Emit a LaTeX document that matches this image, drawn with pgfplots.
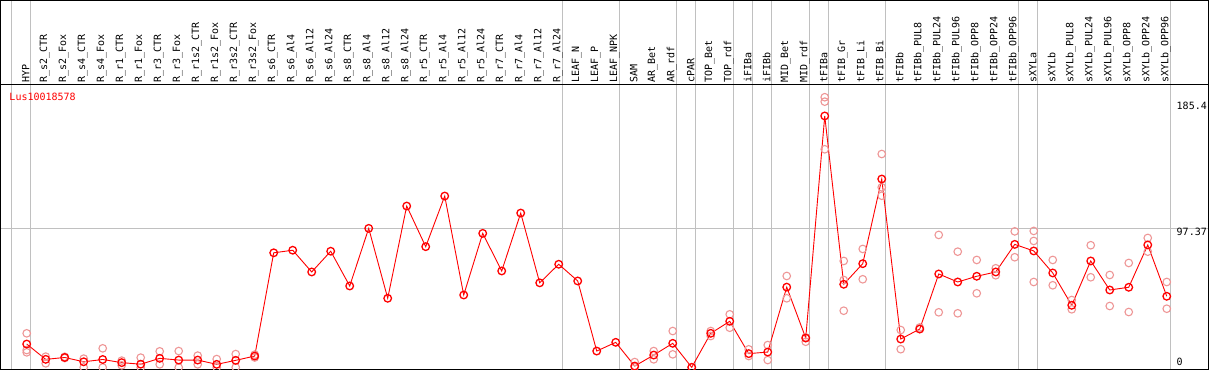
\documentclass[border=0pt]{standalone}
\usepackage{pgfplots}
\pgfplotsset{compat=1.18}
\usepackage{fontspec}
\newfontfamily\monofont{DejaVu Sans Mono}
\definecolor{gridc}{RGB}{192,192,192}
\definecolor{repc}{RGB}{238,150,150}
\begin{document}
\begin{tikzpicture}
\begin{axis}[
  at={(0,0)}, anchor=south west,
  scale only axis, width=1208bp, height=369bp,
  xmin=-1.379, xmax=62.2, ymin=-1.4, ymax=256.64,
  axis line style={black, line width=1bp},
  xtick={-0.82,0.19,28.19,31.19,34.19,35.19,37.19,38.19,39.19,41.19,42.19,45.19,52.19,53.19,60.19},
  xticklabels={}, ytick={97.37}, yticklabels={},
  major tick length=0pt,
  xmajorgrids, ymajorgrids,
  grid style={gridc, line width=1bp},
  clip=true,
]
\draw[black, line width=1bp] (axis cs:-1.379,197.55) -- (axis cs:62.2,197.55);
% replicates
\addplot[only marks, mark=o, mark size=3.8bp, repc, mark options={line width=1.1bp}] coordinates {
(0,23.9)(0,12.2)(0,10.6)
(1,7.6)(1,2.9)
(2,7.5)(2,6.6)
(3,6.2)(3,0.1)
(4,13.4)(4,0)
(5,4.8)(5,1.5)
(6,6.9)(6,0)
(7,11.3)(7,2.2)
(8,11.5)(8,0)
(9,8.3)(9,2.2)
(10,5.9)(10,0)
(11,9.4)(11,0.1)
(12,9.0)(12,7.0)
(32,3.8)(32,0.3)
(33,11.5)(33,5.7)
(34,25.5)(34,9.2)
(35,0.2)
(36,25.5)(36,22.0)
(37,37.2)(37,27.8)
(38,12.7)(38,8.0)
(39,15.7)(39,5.2)
(40,64.0)(40,48.4)
(41,21.1)(41,18.0)
(42,189.0)(42,185.9)(42,152.6)
(43,74.5)(43,61.2)(43,39.7)
(44,82.9)(44,61.7)
(45,149.3)(45,126.0)(45,120.1)
(46,26.2)(46,12.8)
(47,28.0)(47,27.0)
(48,92.7)(48,38.6)
(49,81.0)(49,37.9)
(50,75.2)(50,51.9)
(51,69.4)(51,64.5)
(52,95.2)(52,77.1)
(53,95.5)(53,88.5)(53,59.8)
(54,75.2)(54,57.5)
(55,47.2)(55,40.7)
(56,85.5)(56,63.1)
(57,64.7)(57,43.0)
(58,73.1)(58,38.8)
(59,90.6)(59,81.0)
(60,59.8)(60,41.1)
};
% means
\addplot[red, line width=0.9bp, mark=o, mark size=3.8bp, mark options={line width=1.3bp}] coordinates {
(0,16.4)(1,5.7)(2,7.0)(3,4.0)(4,5.6)(5,3.4)(6,2.3)(7,6.4)(8,5.2)(9,5.2)
(10,2.2)(11,5.0)(12,8.0)(13,80.2)(14,82.0)(15,66.8)(16,81.3)(17,57.0)(18,97.3)(19,48.4)
(20,112.9)(21,84.5)(22,119.9)(23,50.7)(24,93.8)(25,67.5)(26,108.0)(27,59.2)(28,72.2)(29,60.5)
(30,11.5)(31,17.6)(32,1.0)(33,8.7)(34,16.9)(35,0.1)(36,23.9)(37,32.3)(38,9.7)(39,10.8)
(40,56.2)(41,20.6)(42,175.9)(43,58.2)(44,72.6)(45,131.8)(46,19.9)(47,26.9)(48,65.4)(49,59.8)
(50,63.8)(51,66.8)(52,86.1)(53,81.5)(54,66.1)(55,43.5)(56,74.5)(57,54.2)(58,56.1)(59,85.7)
(60,49.8)
};
\end{axis}
\tikzset{lab/.style={rotate=90, anchor=west, inner sep=0pt, font=\monofont\fontsize{10bp}{12bp}\selectfont}}
\foreach \i/\lab in {0/HYP,1/R\_s2\_CTR,2/R\_s2\_Fox,3/R\_s4\_CTR,4/R\_s4\_Fox,5/R\_r1\_CTR,6/R\_r1\_Fox,7/R\_r3\_CTR,8/R\_r3\_Fox,9/R\_r1s2\_CTR,10/R\_r1s2\_Fox,11/R\_r3s2\_CTR,12/R\_r3s2\_Fox,13/R\_s6\_CTR,14/R\_s6\_Al4,15/R\_s6\_Al12,16/R\_s6\_Al24,17/R\_s8\_CTR,18/R\_s8\_Al4,19/R\_s8\_Al12,20/R\_s8\_Al24,21/R\_r5\_CTR,22/R\_r5\_Al4,23/R\_r5\_Al12,24/R\_r5\_Al24,25/R\_r7\_CTR,26/R\_r7\_Al4,27/R\_r7\_Al12,28/R\_r7\_Al24,29/LEAF\_N,30/LEAF\_P,31/LEAF\_NPK,32/SAM,33/AR\_Bet,34/AR\_rdf,35/cPAR,36/TOP\_Bet,37/TOP\_rdf,38/iFIBa,39/iFIBb,40/MID\_Bet,41/MID\_rdf,42/tFIBa,43/tFIB\_Gr,44/tFIB\_Li,45/tFIB\_Bi,46/tFIBb,47/tFIBb\_PUL8,48/tFIBb\_PUL24,49/tFIBb\_PUL96,50/tFIBb\_OPP8,51/tFIBb\_OPP24,52/tFIBb\_OPP96,53/sXYLa,54/sXYLb,55/sXYLb\_PUL8,56/sXYLb\_PUL24,57/sXYLb\_PUL96,58/sXYLb\_OPP8,59/sXYLb\_OPP24,60/sXYLb\_OPP96} {
  \node[lab] at ({(25.2+19*\i)*1bp}, 287bp) {\lab};
}
\node[anchor=west, inner sep=0pt, red, font=\monofont\fontsize{10bp}{12bp}\selectfont] at (8.8bp, 272.5bp) {Lus10018578};
\begin{scope}[every node/.style={anchor=west, inner sep=0pt, font=\monofont\fontsize{10bp}{12bp}\selectfont}]
\node at (1176bp, 264bp) {185.4};
\node at (1176bp, 137.5bp) {97.37};
\node at (1176bp, 7.5bp) {0};
\end{scope}
\pgfresetboundingbox
\path (-0.5bp,-0.5bp) rectangle (1208.5bp,369.5bp);
\end{tikzpicture}
\end{document}
